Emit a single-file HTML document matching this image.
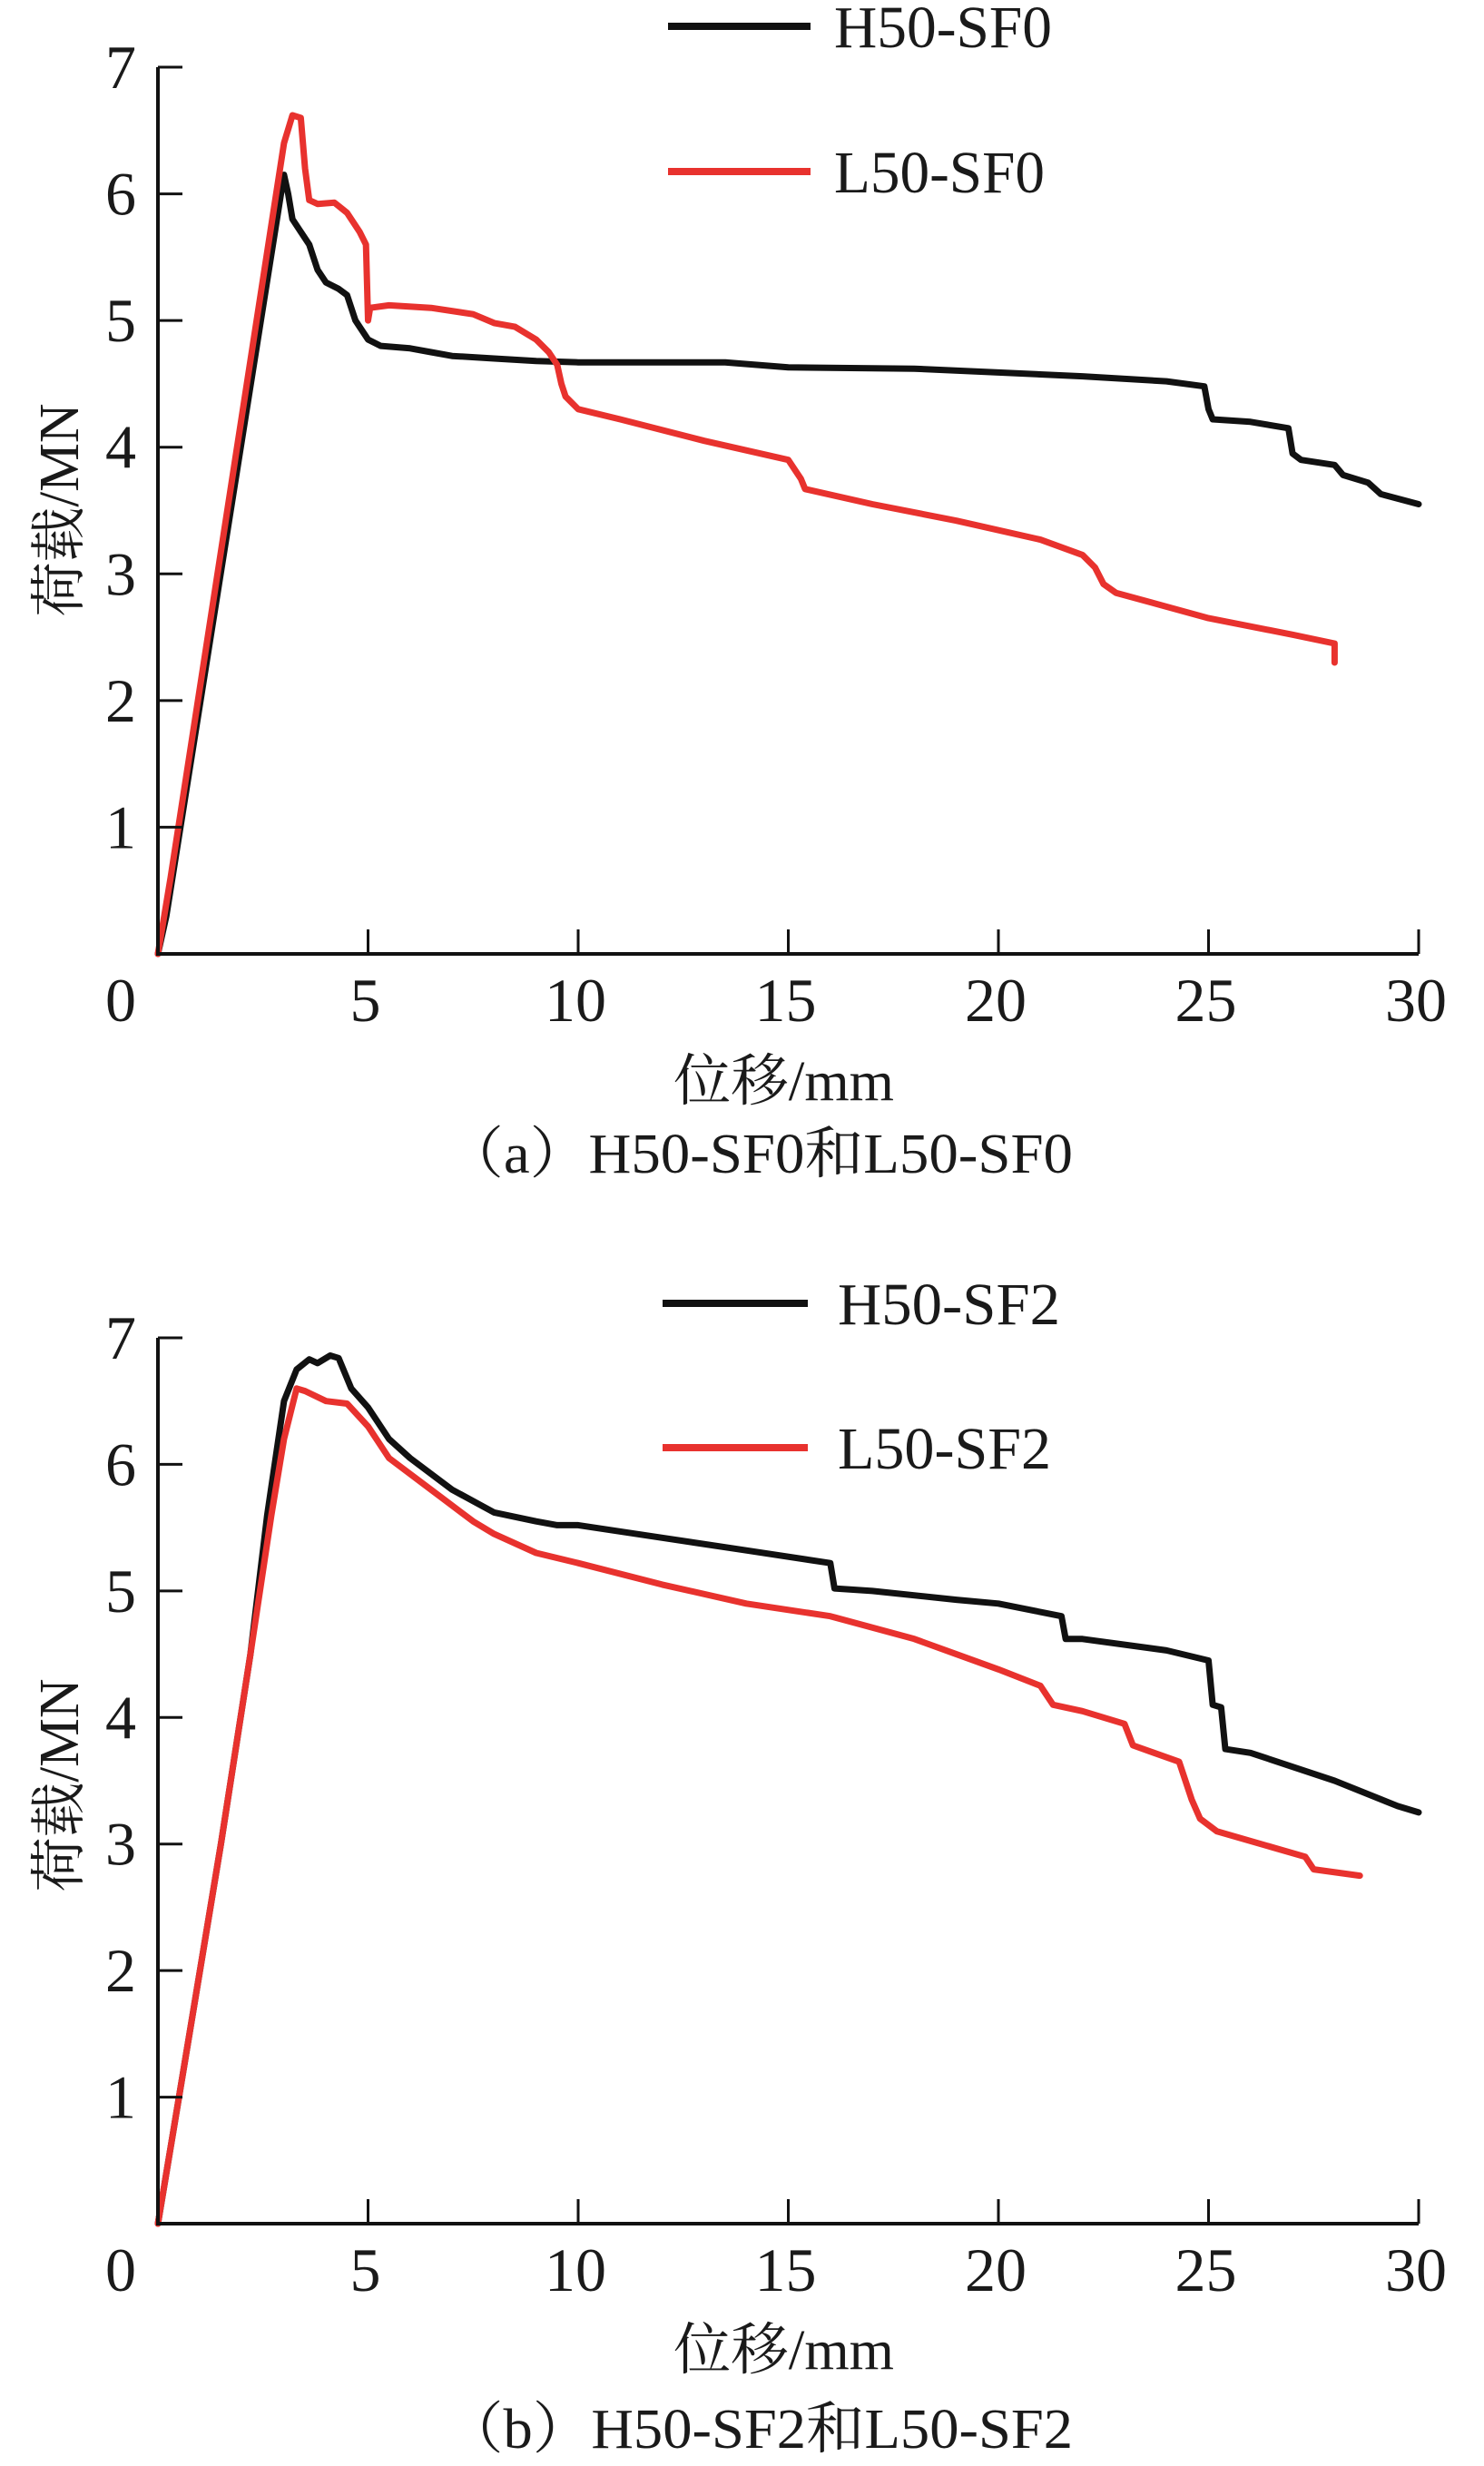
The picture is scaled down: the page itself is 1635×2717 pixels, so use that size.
<!DOCTYPE html>
<html><head><meta charset="utf-8"><style>
html,body{margin:0;padding:0;background:#fff;}
svg{display:block;}
text{font-family:"Liberation Serif","DejaVu Serif","Noto Serif CJK SC",serif;fill:#1a1a1a;}
</style></head><body>
<svg id="s" width="1635" height="2717" viewBox="0 0 1635 2717" xmlns="http://www.w3.org/2000/svg" font-family="Liberation Serif, DejaVu Serif, Noto Serif CJK SC, serif">
<g id="a">
 <line x1="736" y1="29" x2="893" y2="29" stroke="#111" stroke-width="8"/>
 <text x="919" y="52" font-size="66" textLength="240" lengthAdjust="spacingAndGlyphs">H50-SF0</text>
 <line x1="736" y1="189" x2="893" y2="189" stroke="#e8322e" stroke-width="8"/>
 <text x="919" y="212" font-size="66" textLength="232" lengthAdjust="spacingAndGlyphs">L50-SF0</text>
 <text x="742" y="1212" font-size="62" textLength="243" lengthAdjust="spacingAndGlyphs">位移/mm</text>
 <text x="490" y="1292" font-size="62" textLength="692" lengthAdjust="spacingAndGlyphs">（a）H50-SF0和L50-SF0</text>
 <text transform="translate(86,562) rotate(-90)" text-anchor="middle" font-size="62" textLength="235" lengthAdjust="spacingAndGlyphs">荷载/MN</text>
</g>
<g id="b">
 <line x1="730" y1="1436" x2="890" y2="1436" stroke="#111" stroke-width="8"/>
 <text x="923" y="1459" font-size="66" textLength="245" lengthAdjust="spacingAndGlyphs">H50-SF2</text>
 <line x1="730" y1="1595" x2="890" y2="1595" stroke="#e8322e" stroke-width="8"/>
 <text x="923" y="1618" font-size="66" textLength="235" lengthAdjust="spacingAndGlyphs">L50-SF2</text>
 <text x="742" y="2610" font-size="62" textLength="243" lengthAdjust="spacingAndGlyphs">位移/mm</text>
 <text x="490" y="2697" font-size="62" textLength="692" lengthAdjust="spacingAndGlyphs">（b）H50-SF2和L50-SF2</text>
 <text transform="translate(86,1967) rotate(-90)" text-anchor="middle" font-size="62" textLength="235" lengthAdjust="spacingAndGlyphs">荷载/MN</text>
</g>
</svg>
<script>
var NS="http://www.w3.org/2000/svg",s=document.getElementById('s');
function el(t,a,txt){var e=document.createElementNS(NS,t);for(var k in a)e.setAttribute(k,a[k]);if(txt!=null)e.textContent=txt;s.appendChild(e);return e;}
function panel(y0,y7,series){
 var x0=174,x30=1563;
 var X=function(v){return x0+(x30-x0)*v/30;},Y=function(v){return y0+(y7-y0)*v/7;};
 series.forEach(function(sr){
  var d=sr.pts.map(function(p,i){return (i?'L':'M')+X(p[0]).toFixed(1)+' '+Y(p[1]).toFixed(1);}).join(' ');
  el('path',{d:d,fill:'none',stroke:sr.c,'stroke-width':7,'stroke-linejoin':'round','stroke-linecap':'round'});
 });
 el('path',{d:'M'+X(0)+' '+Y(7)+' L'+X(0)+' '+y0+' L'+X(30)+' '+y0,fill:'none',stroke:'#111','stroke-width':4});
 for(var i=1;i<=7;i++){el('line',{x1:X(0),x2:X(0)+27,y1:Y(i),y2:Y(i),stroke:'#111','stroke-width':3});
  el('text',{x:133,y:Y(i)+23,'font-size':68,'text-anchor':'middle'},String(i));}
 for(var j=0;j<=30;j+=5){ if(j>0) el('line',{x1:X(j),x2:X(j),y1:y0,y2:y0-27,stroke:'#111','stroke-width':3});
  el('text',{x:(j==0?133:X(j)-3),y:y0+74,'font-size':68,'text-anchor':'middle'},String(j));}
}
var K='#111',R='#e8322e';
panel(1051,74,[
{c:K,pts:[[0,0],[0.2,0.3],[3.0,6.15],[3.1,6.0],[3.2,5.8],[3.4,5.7],[3.6,5.6],[3.8,5.4],[4.0,5.3],[4.3,5.25],[4.5,5.2],[4.7,5.0],[4.8,4.95],[5.0,4.85],[5.3,4.8],[6,4.78],[6.5,4.75],[7,4.72],[8,4.7],[9,4.68],[10,4.67],[12,4.67],[13.5,4.67],[15,4.63],[18,4.62],[20,4.59],[22,4.56],[24,4.52],[24.9,4.48],[25,4.3],[25.1,4.22],[26,4.2],[26.9,4.15],[27,3.95],[27.2,3.9],[28,3.86],[28.2,3.78],[28.8,3.72],[29.1,3.63],[30,3.55]]},
{c:R,pts:[[0,0],[0.3,0.6],[3.0,6.4],[3.2,6.62],[3.4,6.6],[3.5,6.2],[3.6,5.95],[3.8,5.92],[4.2,5.93],[4.5,5.85],[4.8,5.7],[4.95,5.6],[5.0,5.0],[5.05,5.1],[5.5,5.12],[6.5,5.1],[7.5,5.05],[8,4.98],[8.5,4.95],[9,4.85],[9.3,4.75],[9.5,4.65],[9.6,4.5],[9.7,4.4],[10,4.3],[11,4.22],[13,4.05],[15,3.9],[15.3,3.75],[15.4,3.67],[17,3.55],[19,3.42],[21,3.27],[22,3.15],[22.3,3.05],[22.5,2.92],[22.8,2.85],[25,2.65],[27,2.52],[28,2.45],[28,2.3]]}
]);
panel(2450,1474,[
{c:K,pts:[[0,0],[0.5,1],[1.5,3],[2.2,4.5],[2.6,5.6],[3.0,6.5],[3.3,6.75],[3.6,6.83],[3.8,6.8],[4.1,6.86],[4.3,6.84],[4.6,6.6],[5,6.45],[5.5,6.2],[6,6.05],[7,5.8],[8,5.62],[9,5.55],[9.5,5.52],[10,5.52],[12,5.42],[14,5.32],[16,5.22],[16.1,5.02],[17,5.0],[19,4.93],[20,4.9],[21.5,4.8],[21.6,4.62],[22,4.62],[24,4.53],[25,4.45],[25.1,4.1],[25.3,4.08],[25.4,3.75],[26,3.72],[28,3.5],[29.5,3.3],[30,3.25]]},
{c:R,pts:[[0,0],[0.5,1],[1.5,3],[2.2,4.5],[2.7,5.6],[3.0,6.2],[3.3,6.6],[3.5,6.58],[4,6.5],[4.5,6.48],[5,6.3],[5.5,6.05],[6.5,5.8],[7.5,5.55],[8,5.45],[9,5.3],[10,5.22],[12,5.05],[14,4.9],[16,4.8],[18,4.62],[19,4.5],[20,4.38],[21,4.25],[21.3,4.1],[22,4.05],[23,3.95],[23.2,3.78],[24.3,3.65],[24.6,3.35],[24.8,3.2],[25.2,3.1],[27.3,2.9],[27.5,2.8],[28.6,2.75]]}
]);
</script>
</body></html>
